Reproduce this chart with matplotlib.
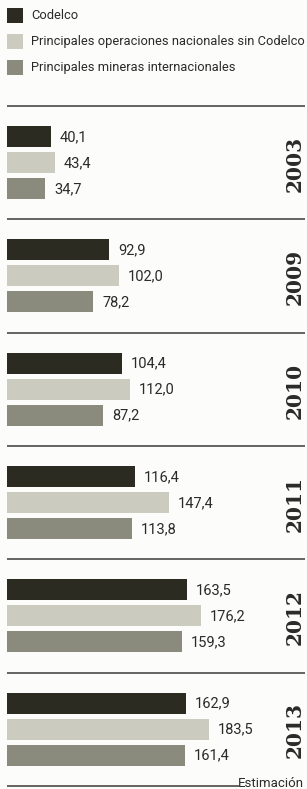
import numpy as np
import matplotlib.pyplot as plt
import matplotlib.transforms as mtransforms
from matplotlib.patches import Rectangle

# ── DATA ─────────────────────────────────────────────────────────────
years    = ['2003', '2009', '2010', '2011', '2012', '2013']
codelco  = [40.1, 92.9, 104.4, 116.4, 163.5, 162.9]
nacional = [43.4, 102.0, 112.0, 147.4, 176.2, 183.5]
internac = [34.7, 78.2, 87.2, 113.8, 159.3, 161.4]
series_names = ['Codelco',
                'Principales operaciones nacionales sin Codelco',
                'Principales mineras internacionales']
footnote = 'Estimación'

# ── STYLE ────────────────────────────────────────────────────────────
W, H = 307, 789
BG      = '#fcfcfa'
COLORS  = ['#2c2b21', '#cbcbc0', '#8b8b7d']
LINE_C  = '#3a3a36'
TXT_C   = '#2a2a26'
SANS    = 'Roboto'

PX_PER_UNIT = 1.1
X0_PX       = 7
SEP0, PITCH = 106, 113.3
BAR_H       = 21

fig = plt.figure(figsize=(W / 100, H / 100), dpi=100, facecolor=BG)
ax = fig.add_axes([0, 0, 1, 1])
ax.set_facecolor(BG)
ax.set_xlim(-X0_PX / PX_PER_UNIT, (W - X0_PX) / PX_PER_UNIT)
ax.set_ylim(H, 0)
ax.axis('off')

# x in axes fraction (pixels / W), y in pixels (data)
px_x = mtransforms.blended_transform_factory(ax.transAxes, ax.transData)

def fx(px):
    return px / W

# ── LEGEND ───────────────────────────────────────────────────────────
for i, (name, c) in enumerate(zip(series_names, COLORS)):
    yc = 15.5 + 26 * i
    ax.add_patch(Rectangle((fx(7), yc - 7.5), fx(15.5), 15, transform=px_x,
                           facecolor=c, edgecolor='none'))
    ax.text(fx(31), yc, name, transform=px_x, ha='left', va='center',
            fontsize=9.3, family=SANS, color=TXT_C)

# ── GROUPS ───────────────────────────────────────────────────────────
for g, yr in enumerate(years):
    sep = SEP0 + PITCH * g
    ax.plot([fx(7), fx(305)], [sep, sep], transform=px_x,
            color=LINE_C, lw=1.1, solid_capstyle='butt')
    vals = [codelco[g], nacional[g], internac[g]]
    for k, (v, c) in enumerate(zip(vals, COLORS)):
        yc = sep + 20 + BAR_H / 2 + 26 * k
        ax.barh(yc, v, height=BAR_H, color=c, left=0)
        ax.text(v + 9 / PX_PER_UNIT, yc + 0.5, f'{v:.1f}'.replace('.', ','),
                ha='left', va='center', fontsize=10.5, family=SANS, color=TXT_C)
    ax.text(fx(295), sep + 58, yr, transform=px_x, rotation=90,
            ha='center', va='center', fontsize=14.5, family='DejaVu Serif',
            fontweight='bold', color=TXT_C)

# bottom rule + footnote
ybot = SEP0 + PITCH * len(years)
ax.plot([fx(7), fx(239)], [ybot, ybot], transform=px_x,
        color=LINE_C, lw=1.1, solid_capstyle='butt')
ax.text(fx(304), ybot - 2, footnote, transform=px_x, ha='right', va='center',
        fontsize=9.5, family=SANS, color=TXT_C)

plt.savefig('out.png', dpi=100, facecolor=BG)
